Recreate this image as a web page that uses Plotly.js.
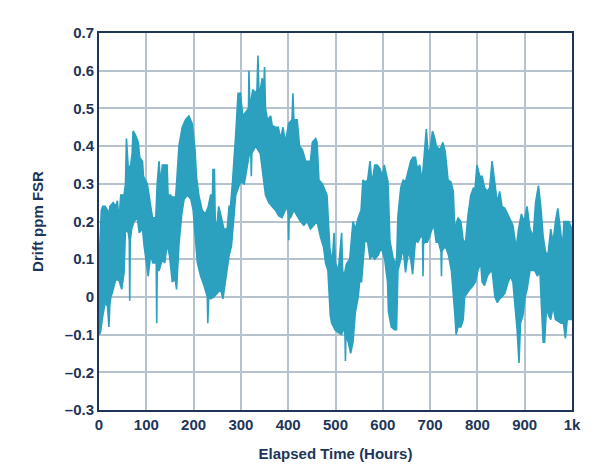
<!DOCTYPE html>
<html>
<head>
<meta charset="utf-8">
<script src="https://cdn.plot.ly/plotly-3.0.1.min.js"></script>
<style>html,body{margin:0;padding:0;background:#fff;}#chart{width:600px;height:475px;}</style>
</head>
<body>
<div id="chart"></div>
<script>
// Upper envelope of the drift band (hours, ppm FSR)
const upperHours = [0,5,8,13,18,20,23,30,35,39,42,46,53,56,58,60,62,67,70,72,77,83,86,92,94,102,106,109,113,120,123,127,130,134,144,146,151,155,162,164,169,176,183,190,194,197,203,206,211,218,225,231,236,240,241,242,244,246,250,253,257,264,271,275,278,282,289,294,299,304,310,316,317,319,325,331,334,336,338,341,345,348,350,352,356,363,366,373,379,384,389,394,401,408,410,412,419,424,430,437,447,451,458,461,465,472,482,485,488,493,497,500,506,513,515,518,523,530,537,542,548,554,558,563,568,573,577,583,588,594,599,603,608,611,615,622,629,632,638,643,648,654,659,664,669,673,678,683,689,692,696,701,705,710,713,721,727,732,738,744,749,752,759,765,770,775,780,786,792,794,799,805,810,815,821,826,831,837,842,847,852,858,865,870,875,882,887,893,899,905,911,918,923,929,934,939,944,949,955,960,965,970,975,980,983,993,1000];
const upperDrift = [0.09,0.23,0.24,0.24,0.23,0.21,0.24,0.25,0.24,0.255,0.20,0.27,0.27,0.30,0.42,0.36,0.34,0.35,0.38,0.44,0.43,0.41,0.37,0.36,0.32,0.30,0.27,0.24,0.21,0.21,0.30,0.36,0.30,0.35,0.35,0.27,0.27,0.265,0.265,0.30,0.40,0.45,0.47,0.48,0.47,0.46,0.39,0.32,0.27,0.23,0.22,0.24,0.27,0.27,0.34,0.27,0.34,0.18,0.20,0.24,0.22,0.18,0.18,0.24,0.24,0.30,0.43,0.54,0.54,0.48,0.49,0.50,0.60,0.50,0.55,0.54,0.55,0.64,0.55,0.55,0.58,0.55,0.61,0.50,0.47,0.48,0.455,0.45,0.45,0.42,0.45,0.41,0.46,0.47,0.54,0.47,0.47,0.40,0.39,0.36,0.36,0.41,0.42,0.41,0.31,0.30,0.27,0.20,0.13,0.09,0.17,0.09,0.07,0.17,0.07,0.055,0.087,0.10,0.20,0.18,0.21,0.23,0.31,0.305,0.31,0.36,0.30,0.35,0.35,0.34,0.32,0.35,0.32,0.305,0.15,0.10,0.09,0.215,0.29,0.31,0.305,0.34,0.36,0.37,0.37,0.34,0.35,0.305,0.39,0.445,0.375,0.40,0.44,0.42,0.40,0.39,0.41,0.385,0.31,0.305,0.28,0.18,0.21,0.20,0.15,0.145,0.215,0.27,0.29,0.27,0.35,0.32,0.32,0.29,0.28,0.29,0.36,0.29,0.25,0.28,0.24,0.235,0.215,0.20,0.19,0.13,0.18,0.22,0.20,0.24,0.18,0.16,0.25,0.295,0.24,0.16,0.12,0.11,0.18,0.145,0.20,0.235,0.18,0.13,0.20,0.20,0.18];

// Lower envelope of the drift band
const lowerHours = [0,3,8,13,18,21,23,25,28,35,42,48,53,56,62,64,65,66,69,74,81,85,92,95,100,104,109,114,121,122,123,127,134,139,144,149,155,161,164,169,175,180,187,194,199,203,208,215,222,229,230,232,236,243,250,257,262,268,275,280,283,289,296,301,307,313,318,321,322,323,325,331,336,341,346,352,359,366,373,380,387,391,397,400,401,402,405,412,419,426,433,440,447,454,461,468,475,479,484,489,492,499,506,513,516,520,521,522,527,532,537,542,548,551,555,558,562,568,573,577,583,590,597,604,610,612,618,625,629,632,638,643,648,654,659,663,664,669,674,680,684,685,686,689,694,699,704,708,713,718,723,724,725,729,734,739,745,749,752,755,759,765,770,773,779,784,791,796,801,807,810,815,821,826,831,837,842,847,852,858,865,870,875,880,884,888,891,896,901,905,911,921,927,932,935,939,942,946,951,955,960,965,977,982,986,990,1000];
const lowerDrift = [-0.10,-0.095,-0.05,-0.015,-0.025,-0.08,-0.02,0.0,0.01,0.045,0.045,0.02,0.065,0.18,0.17,0.15,-0.01,0.15,0.18,0.20,0.21,0.17,0.18,0.14,0.09,0.055,0.11,0.09,0.09,-0.07,0.07,0.07,0.10,0.09,0.14,0.11,0.04,0.047,0.02,0.14,0.22,0.26,0.27,0.26,0.23,0.16,0.09,0.055,0.03,0.0,-0.07,0.0,-0.005,0.0,0.01,0.02,-0.005,0.045,0.11,0.135,0.18,0.27,0.295,0.305,0.30,0.34,0.38,0.38,0.32,0.38,0.385,0.40,0.39,0.38,0.34,0.27,0.25,0.24,0.23,0.215,0.21,0.22,0.24,0.22,0.15,0.21,0.21,0.23,0.215,0.20,0.19,0.20,0.18,0.19,0.20,0.16,0.13,0.09,0.07,-0.05,-0.07,-0.087,-0.095,-0.10,-0.08,-0.10,-0.17,-0.10,-0.12,-0.15,-0.12,-0.04,0.0,0.04,0.04,0.07,0.15,0.145,0.10,0.11,0.10,0.11,0.13,0.10,0.04,-0.04,-0.08,-0.087,-0.087,0.07,0.10,0.13,0.065,0.12,0.10,0.06,0.07,0.15,0.145,0.16,0.16,0.055,0.14,0.145,0.145,0.16,0.18,0.19,0.145,0.145,0.12,0.055,0.12,0.13,0.13,0.11,0.07,0.0,-0.04,-0.10,-0.08,-0.08,-0.06,0.0,0.01,0.02,0.03,0.04,0.07,0.09,0.04,0.03,0.055,0.065,0.07,0.0,-0.015,-0.005,0.0,0.01,0.04,0.055,0.04,-0.025,-0.087,-0.175,-0.07,-0.05,0.0,0.02,0.07,0.07,0.055,0.07,0.02,-0.12,-0.12,-0.03,-0.05,-0.06,-0.025,-0.06,-0.07,-0.07,-0.11,-0.06,-0.06];

const xTickVals = [0,100,200,300,400,500,600,700,800,900,1000];
const xTickText = ['0','100','200','300','400','500','600','700','800','900','1k'];
const yTickVals = [-0.3,-0.2,-0.1,0,0.1,0.2,0.3,0.4,0.5,0.6,0.7];
const yTickText = ['\u20130.3','\u20130.2','\u20130.1','0','0.1','0.2','0.3','0.4','0.5','0.6','0.7'];

const bandColor = '#2ba0bf';
const navy = '#1e3558';
const gridColor = '#b6c3cf';

const bandX = upperHours.concat(lowerHours.slice().reverse());
const bandY = upperDrift.concat(lowerDrift.slice().reverse());

const trace = {
  x: bandX, y: bandY, type: 'scatter', mode: 'lines',
  fill: 'toself', fillcolor: bandColor,
  line: {color: bandColor, width: 1.6},
  hoverinfo: 'skip', showlegend: false
};

const font = {family: '"Liberation Sans", Arial, Helvetica, sans-serif', size: 15, color: navy, weight: 'bold'};

const layout = {
  width: 600, height: 475,
  margin: {l: 99, r: 28, t: 33, b: 65},
  paper_bgcolor: '#ffffff', plot_bgcolor: '#ffffff',
  font: font,
  showlegend: false,
  xaxis: {
    range: [0, 1000], tickvals: xTickVals, ticktext: xTickText,
    showgrid: true, gridcolor: gridColor, gridwidth: 2,
    showline: true, linecolor: navy, linewidth: 2, mirror: true,
    ticks: '', zeroline: false, tickfont: font,
    title: {text: 'Elapsed Time (Hours)', font: font, standoff: 16},
    fixedrange: true
  },
  yaxis: {
    range: [-0.3, 0.7], tickvals: yTickVals, ticktext: yTickText,
    showgrid: true, gridcolor: gridColor, gridwidth: 2,
    showline: true, linecolor: navy, linewidth: 2, mirror: true,
    ticks: '', zeroline: false, tickfont: font,
    title: {text: 'Drift ppm FSR', font: font, standoff: 18},
    fixedrange: true
  }
};

Plotly.newPlot('chart', [trace], layout, {displayModeBar: false, staticPlot: true});
</script>
</body>
</html>
